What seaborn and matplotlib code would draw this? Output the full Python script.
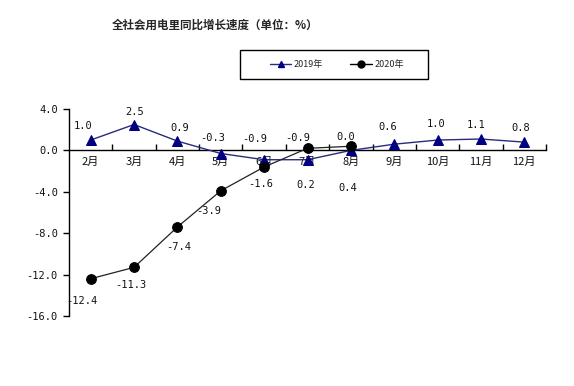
import matplotlib
matplotlib.use("Agg")
import matplotlib.pyplot as plt
from matplotlib.patches import Rectangle
from matplotlib.lines import Line2D
import seaborn as sns
import pandas as pd
import numpy as np

months = ["2月", "3月", "4月", "5月", "6月", "7月", "8月", "9月", "10月", "11月", "12月"]
growth_2019 = [1.0, 2.5, 0.9, -0.3, -0.9, -0.9, 0.0, 0.6, 1.0, 1.1, 0.8]
growth_2020 = [-12.4, -11.3, -7.4, -3.9, -1.6, 0.2, 0.4]
y_ticks = [4.0, 0.0, -4.0, -8.0, -12.0, -16.0]
title = "全社会用电里同比增长速度（单位：%）"

# label offsets in pixels (style)
off_2019 = [(-8, 14), (1, 13), (2, 13), (-8, 16), (-9, 21), (-10, 22), (-5, 13), (-6, 17), (-1, 16), (-5, 14), (-4, 14)]
off_2020 = [(-9, -22), (-3, -18), (1, -20), (-12, -20), (-3, -17), (-2, -37), (-3, -42)]

sns.set_theme(style="white")
plt.rcParams["font.family"] = ["Noto Sans CJK SC", "DejaVu Sans"]
plt.rcParams["axes.unicode_minus"] = False
num_font = ["DejaVu Sans Mono", "DejaVu Sans"]

fig = plt.figure(figsize=(5.74, 3.86), dpi=100)
ax = fig.add_axes([69/574, 70/386, 477/574, 207/386])

x19 = np.arange(len(growth_2019))
x20 = np.arange(len(growth_2020))
df19 = pd.DataFrame({"x": x19, "y": growth_2019})
df20 = pd.DataFrame({"x": x20, "y": growth_2020})

navy = "#2a2a80"
sns.lineplot(data=df19, x="x", y="y", ax=ax, color=navy, lw=1.0, marker="^",
             markersize=7, markerfacecolor="#000080", markeredgecolor="#000080", zorder=3)
sns.lineplot(data=df20, x="x", y="y", ax=ax, color="#222222", lw=0.9, marker="o",
             markersize=7, markerfacecolor="black", markeredgecolor="black", zorder=4)

for xi, v, (dx, dy) in zip(x19, growth_2019, off_2019):
    ax.annotate(f"{v:.1f}", (xi, v), xytext=(dx, dy), textcoords="offset pixels",
                ha="center", va="center", fontsize=7.5, color="#111111", family=num_font)
for xi, v, (dx, dy) in zip(x20, growth_2020, off_2020):
    ax.annotate(f"{v:.1f}", (xi, v), xytext=(dx, dy), textcoords="offset pixels",
                ha="center", va="center", fontsize=7.5, color="#111111", family=num_font)

ax.set_xlim(-0.5, len(months) - 0.5)
ax.set_ylim(-16, 4)
ax.set_yticks(y_ticks)
ax.set_yticklabels([f"{t:.1f}" for t in y_ticks], family=num_font)
ax.set_xticks(np.arange(len(months)))
ax.set_xticklabels(months)
ax.set_xticks(np.arange(len(months)) + 0.5, minor=True)
ax.tick_params(axis="x", which="major", length=0, pad=5, labelsize=8, labelcolor="#111111")
ax.tick_params(axis="x", which="minor", direction="in", length=4, width=1, color="black", bottom=True)
ax.tick_params(axis="y", direction="out", length=4, width=1, color="black", left=True, pad=4,
               labelsize=7.5, labelcolor="#111111")
for lab in ax.get_yticklabels():
    lab.set_family(num_font)
ax.set_xlabel("")
ax.set_ylabel("")
for s in ["top", "right"]:
    ax.spines[s].set_visible(False)
ax.spines["bottom"].set_position(("data", 0))
for s in ["left", "bottom"]:
    ax.spines[s].set_color("black")
    ax.spines[s].set_linewidth(1.0)
ax.grid(False)
ax.patch.set_alpha(0)

fig.text(215/574, 1 - 25/386, title, ha="center", va="center", fontsize=8.3, fontweight="bold")

rect = Rectangle((240/574, 307/386), 188/574, 29/386, transform=fig.transFigure,
                 fill=False, edgecolor="black", lw=1.0)
fig.patches.append(rect)
handles = [Line2D([], [], color=navy, marker="^", markersize=5, markerfacecolor="#000080", markeredgecolor="#000080", lw=1.0),
           Line2D([], [], color="black", marker="o", markersize=5, markerfacecolor="black", lw=1.0)]
fig.legend(handles, ["2019年", "2020年"], loc="center", bbox_to_anchor=(337/574, 321/386),
           ncol=2, frameon=False, fontsize=6.5, handlelength=2.4, handletextpad=0.3, columnspacing=3.0)

fig.savefig("out.png", dpi=100)
